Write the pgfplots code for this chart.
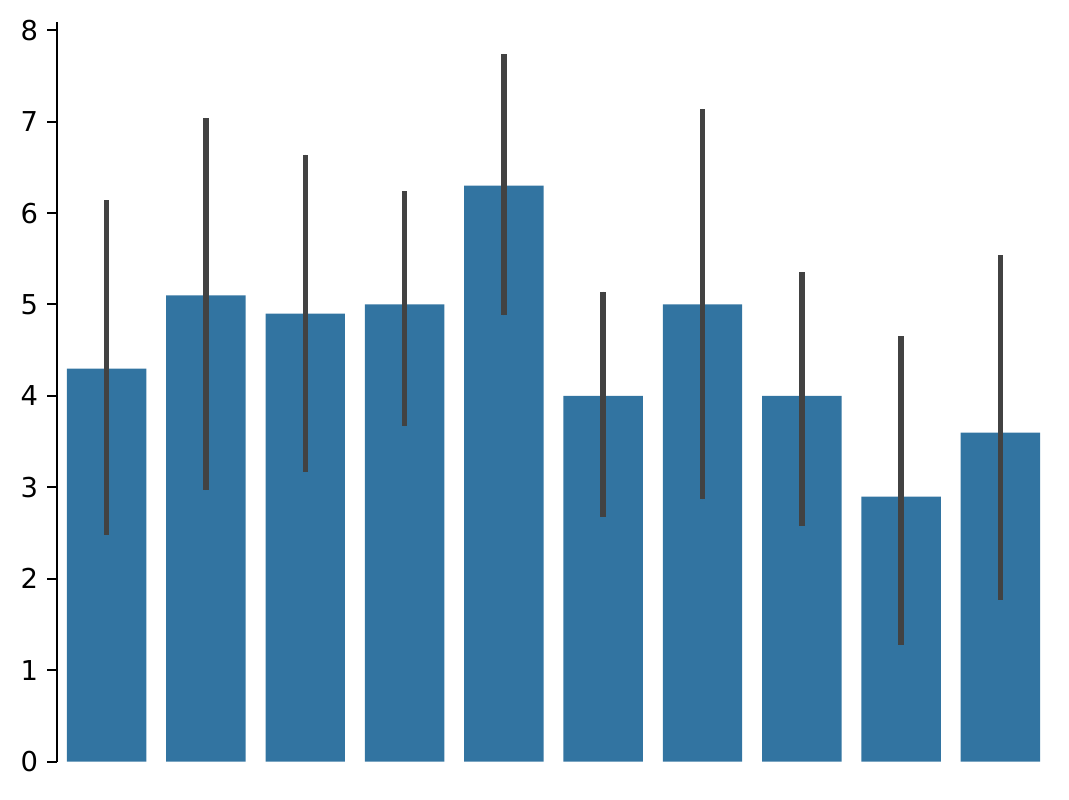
\documentclass[border=0pt]{standalone}
\usepackage{fontspec}
\setmainfont{DejaVu Sans}
\usepackage{pgfplots}
\pgfplotsset{compat=1.18}
\definecolor{barblue}{HTML}{3274A1}
\definecolor{errgray}{HTML}{424242}
\begin{document}
\begin{tikzpicture}[x=1pt,y=1pt]
\begin{axis}[
  scale only axis,
  width=428.1pt, height=318.9pt,
  xmin=-0.5, xmax=9.5,
  ymin=0, ymax=8.09,
  axis x line=none,
  axis y line*=left,
  axis line style={line width=0.86pt, black, -},
  ytick={0,1,2,3,4,5,6,7,8},
  tick align=outside,
  major tick length=4.3pt,
  every tick/.style={line width=0.86pt, black},
  tick label style={font=\fontsize{11.8}{14}\selectfont},
  /pgf/number format/assume math mode=true,
  yticklabel style={xshift=-0.3pt},
  clip=false,
]
\addplot[ybar, bar width=0.8, bar shift=0pt, fill=barblue, draw=none,
  error bars/.cd, y dir=both, y explicit,
  error mark=none,
  error bar style={line width=2.35pt, errgray, line cap=butt}]
coordinates {
  (0,4.3) += (0,1.84) -= (0,1.82)
  (1,5.1) += (0,1.94) -= (0,2.13)
  (2,4.9) += (0,1.74) -= (0,1.73)
  (3,5.0) += (0,1.24) -= (0,1.33)
  (4,6.3) += (0,1.44) -= (0,1.42)
  (5,4.0) += (0,1.14) -= (0,1.32)
  (6,5.0) += (0,2.14) -= (0,2.13)
  (7,4.0) += (0,1.35) -= (0,1.42)
  (8,2.9) += (0,1.75) -= (0,1.62)
  (9,3.6) += (0,1.94) -= (0,1.83)
};
\end{axis}
\path[use as bounding box] (-24.57pt,-16.08pt) rectangle (436.27pt,328.37pt);
\end{tikzpicture}
\end{document}
